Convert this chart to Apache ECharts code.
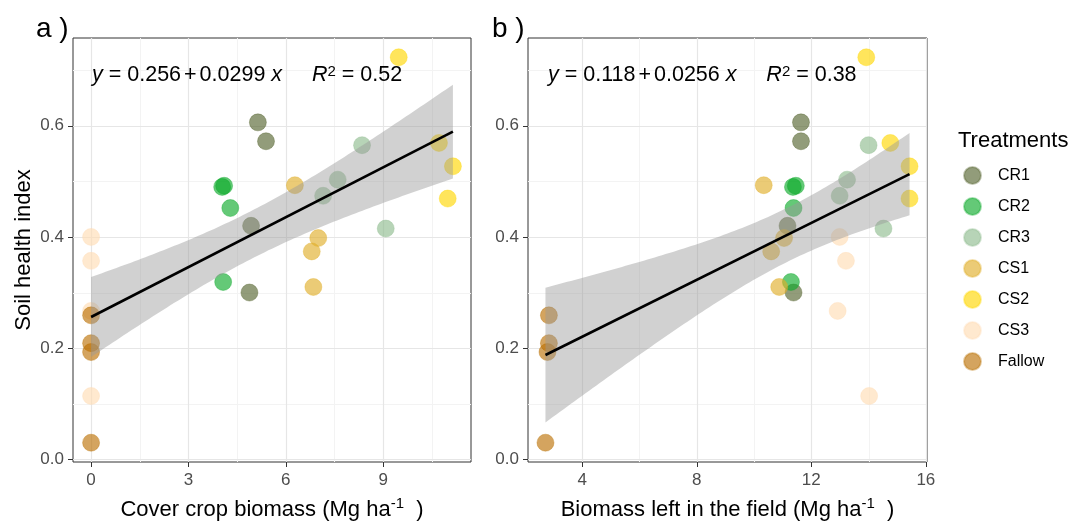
<!DOCTYPE html>
<html><head><meta charset="utf-8">
<script src="https://cdn.jsdelivr.net/npm/echarts@6/dist/echarts.min.js"></script>
<style>html,body{margin:0;padding:0;background:#fff}#c{width:1072px;height:522px}</style>
</head><body><div id="c"></div>
<script>
// ---------------- data ----------------
const treatments = ['CR1','CR2','CR3','CS1','CS2','CS3','Fallow'];
const treatment = [
  'CR1','CR1','CR1','CR1',
  'CR2','CR2','CR2','CR2',
  'CR3','CR3','CR3','CR3',
  'CS1','CS1','CS1','CS1',
  'CS2','CS2','CS2','CS2',
  'CS3','CS3','CS3','CS3',
  'Fallow','Fallow','Fallow','Fallow'
];
const coverBiomass = [
  5.14, 5.39, 4.93, 4.88,
  4.04, 4.10, 4.29, 4.07,
  8.35, 7.60, 7.15, 9.08,
  6.28, 7.00, 6.80, 6.85,
  9.48, 10.72, 11.15, 10.99,
  0, 0, 0, 0,
  0, 0, 0, 0
];
const biomassLeft = [
  11.64, 11.64, 11.17, 11.38,
  11.36, 11.46, 11.38, 11.29,
  14.00, 13.25, 12.99, 14.52,
  10.34, 11.05, 10.60, 10.88,
  13.92, 14.76, 15.43, 15.43,
  12.99, 13.21, 12.92, 14.02,
  2.84, 2.84, 2.79, 2.72
];
const soilHealth = [
  0.606, 0.572, 0.420, 0.300,
  0.490, 0.492, 0.452, 0.319,
  0.565, 0.503, 0.474, 0.415,
  0.493, 0.398, 0.374, 0.310,
  0.723, 0.569, 0.527, 0.469,
  0.400, 0.357, 0.267, 0.114,
  0.259, 0.209, 0.193, 0.030
];
// regression coefficients printed on the chart
const fitA = [0.256, 0.0299];
const fitB = [0.118, 0.0256];
const r2A = '0.52', r2B = '0.38';
// tick values
const xTicksA = [0, 3, 6, 9];
const xMinorA = [1.5, 4.5, 7.5, 10.5];
const xTicksB = [4, 8, 12, 16];
const xMinorB = [6, 10, 14];
const yTicks = [0, 0.2, 0.4, 0.6];
const yMinor = [0.1, 0.3, 0.5, 0.7];

// ---------------- styling ----------------
const FONT = "'Liberation Sans', Arial, Helvetica, sans-serif";
const baseRGB = {
  CR1: [85, 100, 47], CR2: [12, 170, 42], CR3: [143, 188, 143],
  CS1: [224, 174, 40], CS2: [255, 215, 0], CS3: [255, 220, 180], Fallow: [187, 113, 4]
};
const rgba = (c, a) => `rgba(${c[0]},${c[1]},${c[2]},${a})`;

const axA = { min: -0.5575, max: 11.7075 };
const axB = { min: 2.11, max: 16.04 };
const axY = { min: -0.0047, max: 0.7577 };

// confidence band computed from the data around the printed fit (as geom_smooth does)
function band(xs, ys, fit, nPts) {
  const n = xs.length;
  const xbar = xs.reduce((a, b) => a + b, 0) / n;
  let sxx = 0, sse = 0;
  for (let i = 0; i < n; i++) {
    sxx += (xs[i] - xbar) ** 2;
    sse += (ys[i] - (fit[0] + fit[1] * xs[i])) ** 2;
  }
  const s = Math.sqrt(sse / (n - 2));
  const t = 2.0555;
  const lo = Math.min(...xs), hi = Math.max(...xs);
  const out = [];
  for (let k = 0; k <= nPts; k++) {
    const x = lo + (hi - lo) * k / nPts;
    const yh = fit[0] + fit[1] * x;
    const se = s * Math.sqrt(1 / n + (x - xbar) ** 2 / sxx);
    out.push([x, yh - t * se, yh + t * se]);
  }
  return out;
}
const bandA = band(coverBiomass, soilHealth, fitA, 100);
const bandB = band(biomassLeft, soilHealth, fitB, 100);

// grid lines (kind 'grid') or outward tick marks (kind 'tick') at axis values
function ruleSeries(idx, values, vertical, kind, color, width) {
  return {
    type: 'custom', xAxisIndex: idx, yAxisIndex: idx, silent: true, clip: false,
    z: kind === 'tick' ? 8 : 1,
    data: values.map(v => vertical ? [v, 0.3] : [idx === 0 ? 5 : 8, v]),
    renderItem: (params, api) => {
      const cs = params.coordSys;
      const p = api.coord([api.value(0), api.value(1)]);
      const px = Math.round(p[0]) + 0.5, py = Math.round(p[1]) + 0.5;
      let shape;
      if (kind === 'grid') {
        shape = vertical
          ? { x1: px, y1: cs.y, x2: px, y2: cs.y + cs.height }
          : { x1: cs.x, y1: py, x2: cs.x + cs.width, y2: py };
      } else {
        const b = cs.y + cs.height, l = cs.x;
        shape = vertical
          ? { x1: px, y1: b, x2: px, y2: b + 5 }
          : { x1: l - 5, y1: py, x2: l, y2: py };
      }
      return { type: 'line', shape, style: { stroke: color, lineWidth: width } };
    }
  };
}
function bandSeries(idx, data) {
  return {
    type: 'custom', xAxisIndex: idx, yAxisIndex: idx, silent: true, z: 5,
    data: data, encode: { x: 0, y: [1, 2] },
    renderItem: (params, api) => {
      if (params.dataIndex !== 0) return null;
      const up = data.map(d => api.coord([d[0], d[2]]));
      const dn = data.map(d => api.coord([d[0], d[1]])).reverse();
      return { type: 'polygon', shape: { points: up.concat(dn) }, style: { fill: 'rgba(153,153,153,0.45)' } };
    }
  };
}
function fitSeries(idx, xs, fit) {
  const lo = Math.min(...xs), hi = Math.max(...xs);
  return {
    type: 'line', xAxisIndex: idx, yAxisIndex: idx, silent: true, z: 6,
    symbol: 'none', data: [[lo, fit[0] + fit[1] * lo], [hi, fit[0] + fit[1] * hi]],
    lineStyle: { color: '#000', width: 2.6 }
  };
}
function scatterSeries(idx, xs) {
  return treatments.map(t => {
    const pts = [];
    treatment.forEach((tr, i) => { if (tr === t) pts.push([xs[i], soilHealth[i]]); });
    return {
      type: 'scatter', name: t, xAxisIndex: idx, yAxisIndex: idx, z: 3,
      symbolSize: 17, data: pts,
      itemStyle: { color: rgba(baseRGB[t], 0.8), borderColor: rgba(baseRGB[t], 0.45), borderWidth: 1 }
    };
  });
}

function xAxisCfg(idx, rng, ticks, name) {
  return {
    gridIndex: idx, type: 'value', min: rng.min, max: rng.max,
    axisLine: { show: false },
    splitLine: { show: false },
    axisTick: { show: false },
    axisLabel: { customValues: ticks, fontSize: 17, color: '#4d4d4d', fontFamily: FONT, margin: 10 },
    name: name, nameLocation: 'middle', nameGap: 34,
    nameTextStyle: {
      fontSize: 22, color: '#000', fontFamily: FONT, lineHeight: 28,
      rich: { s: { fontSize: 15, fontFamily: FONT, color: '#000', verticalAlign: 'top', lineHeight: 15 } }
    }
  };
}
function yAxisCfg(idx, name) {
  return {
    gridIndex: idx, type: 'value', min: axY.min, max: axY.max,
    axisLine: { show: false },
    splitLine: { show: false },
    axisTick: { show: false },
    axisLabel: { customValues: yTicks, fontSize: 17, color: '#4d4d4d', fontFamily: FONT, margin: 9,
      formatter: v => v.toFixed(1) },
    name: name, nameLocation: 'middle', nameGap: 38, nameRotate: 90,
    nameTextStyle: { fontSize: 22, color: '#000', fontFamily: FONT }
  };
}

const EQ = 21.5;
const eqRich = {
  it: { fontStyle: 'italic', fontSize: EQ, fontFamily: FONT, color: '#000' },
  n: { fontSize: EQ, fontFamily: FONT, color: '#000' },
  p: { fontSize: EQ, fontFamily: FONT, color: '#000', padding: [0, 3, 0, 3] },
  s: { fontSize: 15, fontFamily: FONT, color: '#000', verticalAlign: 'top', lineHeight: 15 }
};
function eqText(fit, r2) {
  return `{it|y}{n| = ${fit[0].toFixed(3)}}{p|+}{n|${fit[1]} }{it|x}{n|     }{it|R}{s|2}{n| = ${r2}}`;
}

const chart = echarts.init(document.getElementById('c'), null, { renderer: 'canvas' });
chart.setOption({
  animation: false,
  backgroundColor: '#fff',
  textStyle: { fontFamily: FONT },
  grid: [
    { left: 73, top: 38, width: 398, height: 424, show: true, borderColor: '#333', borderWidth: 1, backgroundColor: 'transparent', outerBoundsMode: 'none', containLabel: false },
    { left: 528, top: 38, width: 399, height: 424, show: true, borderColor: '#333', borderWidth: 1, backgroundColor: 'transparent', outerBoundsMode: 'none', containLabel: false }
  ],
  xAxis: [
    xAxisCfg(0, axA, xTicksA, 'Cover crop biomass (Mg ha{s|-1}  )'),
    xAxisCfg(1, axB, xTicksB, 'Biomass left in the field (Mg ha{s|-1}  )')
  ],
  yAxis: [yAxisCfg(0, 'Soil health index'), yAxisCfg(1, '')],
  legend: {
    orient: 'vertical', left: 963, top: 166, padding: 0, itemWidth: 17, itemHeight: 17, itemGap: 12,
    icon: 'circle', data: treatments,
    textStyle: { fontSize: 16, color: '#000', fontFamily: FONT, padding: [0, 0, 0, 12] }
  },
  graphic: [
    { type: 'text', x: 36, y: 29, style: { text: 'a )', font: `28px ${FONT}`, fill: '#000', verticalAlign: 'middle' } },
    { type: 'text', x: 492, y: 29, style: { text: 'b )', font: `28px ${FONT}`, fill: '#000', verticalAlign: 'middle' } },
    { type: 'text', x: 92, y: 75, z: 10, style: { text: eqText(fitA, r2A), rich: eqRich, font: `${EQ}px ${FONT}`, fill: '#000', verticalAlign: 'middle' } },
    { type: 'text', x: 548, y: 75, z: 10, style: { text: eqText(fitB, r2B), rich: eqRich, font: `${EQ}px ${FONT}`, fill: '#000', verticalAlign: 'middle' } },
    { type: 'text', x: 958, y: 141, style: { text: 'Treatments', font: `22px ${FONT}`, fill: '#000', verticalAlign: 'middle' } }
  ],
  series: [
    ruleSeries(0, xMinorA, true, 'grid', '#f3f3f3', 1),
    ruleSeries(0, yMinor, false, 'grid', '#f3f3f3', 1),
    ruleSeries(0, xTicksA, true, 'grid', '#e6e6e6', 1.2),
    ruleSeries(0, yTicks, false, 'grid', '#e6e6e6', 1.2),
    ruleSeries(1, xMinorB, true, 'grid', '#f3f3f3', 1),
    ruleSeries(1, yMinor, false, 'grid', '#f3f3f3', 1),
    ruleSeries(1, xTicksB, true, 'grid', '#e6e6e6', 1.2),
    ruleSeries(1, yTicks, false, 'grid', '#e6e6e6', 1.2),
    ruleSeries(0, xTicksA, true, 'tick', '#333', 1),
    ruleSeries(0, yTicks, false, 'tick', '#333', 1),
    ruleSeries(1, xTicksB, true, 'tick', '#333', 1),
    ruleSeries(1, yTicks, false, 'tick', '#333', 1),
    ...scatterSeries(0, coverBiomass),
    ...scatterSeries(1, biomassLeft),
    bandSeries(0, bandA),
    bandSeries(1, bandB),
    fitSeries(0, coverBiomass, fitA),
    fitSeries(1, biomassLeft, fitB)
  ]
});
</script></body></html>
